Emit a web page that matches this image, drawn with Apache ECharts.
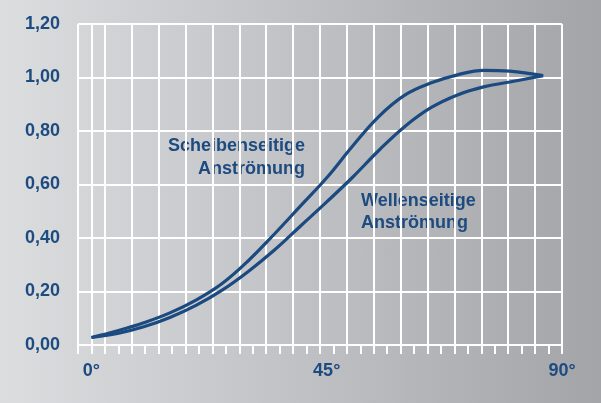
<!DOCTYPE html>
<html>
<head>
<meta charset="utf-8">
<script src="https://cdn.jsdelivr.net/npm/echarts@6/dist/echarts.min.js"></script>
<style>
html,body{margin:0;padding:0;}
#c{width:601px;height:403px;background:linear-gradient(to right,#dcdddf 0%,#c3c4c7 45%,#a3a4a8 100%);}
</style>
</head>
<body>
<div id="c"></div>
<script>
// Angle in degrees
const angles = [0, 5, 10, 15, 20, 25, 30, 35, 40, 45, 50, 55, 60, 65, 70, 75, 80, 86.4];
// Scheibenseitige Anströmung (upper curve)
const scheibenseitig = [0.028, 0.053, 0.083, 0.12, 0.168, 0.23, 0.315, 0.415, 0.52, 0.625, 0.745, 0.855, 0.935, 0.98, 1.01, 1.027, 1.024, 1.007];
// Wellenseitige Anströmung (lower curve)
const wellenseitig = [0.028, 0.043, 0.068, 0.103, 0.148, 0.205, 0.275, 0.355, 0.445, 0.535, 0.628, 0.728, 0.818, 0.888, 0.935, 0.965, 0.983, 1.007];
const xLabelValues = [0, 45, 90];
const yTicks = [0, 0.2, 0.4, 0.6, 0.8, 1.0, 1.2];
const labelScheibe = 'Scheibenseitige\nAnströmung';
const labelWelle = 'Wellenseitige\nAnströmung';

const blue = '#1a4a7f';
const textBlue = '#1d4b80';
const white = '#ffffff';
const fontFam = 'Arial';
const xMin = -90 / 35;
const xInterval = 180 / 35;

const chart = echarts.init(document.getElementById('c'), null, {renderer: 'canvas'});
chart.setOption({
  animation: false,
  backgroundColor: 'transparent',
  grid: {left: 78, right: 39, top: 24, bottom: 58, containLabel: false},
  xAxis: {
    type: 'value',
    min: xMin,
    max: 90,
    interval: xInterval,
    axisLine: {show: true, lineStyle: {color: white, width: 2}},
    axisTick: {show: true, inside: false, length: 9, lineStyle: {color: white, width: 2}},
    minorTick: {show: true, splitNumber: 2, length: 9, lineStyle: {color: white, width: 2}},
    splitLine: {show: true, lineStyle: {color: white, width: 2}},
    minorSplitLine: {show: false},
    axisLabel: {
      show: true,
      customValues: xLabelValues,
      formatter: v => Math.round(v) + '°',
      color: textBlue,
      fontWeight: 700,
      fontSize: 18,
      fontFamily: fontFam,
      margin: 17
    }
  },
  yAxis: {
    type: 'value',
    min: yTicks[0],
    max: yTicks[yTicks.length - 1],
    interval: 0.2,
    axisLine: {show: true, lineStyle: {color: white, width: 2}},
    axisTick: {show: true, inside: false, length: 10, lineStyle: {color: white, width: 2}},
    splitLine: {show: true, lineStyle: {color: white, width: 2}},
    axisLabel: {
      formatter: v => v.toFixed(2).replace('.', ','),
      color: textBlue,
      fontWeight: 700,
      fontSize: 18,
      fontFamily: fontFam,
      margin: 18
    }
  },
  series: [
    {
      name: 'Scheibenseitige Anströmung',
      type: 'line',
      smooth: 0.4,
      symbol: 'none',
      data: angles.map((a, i) => [a, scheibenseitig[i]]),
      lineStyle: {color: blue, width: 3.2}
    },
    {
      name: 'Wellenseitige Anströmung',
      type: 'line',
      smooth: 0.4,
      symbol: 'none',
      data: angles.map((a, i) => [a, wellenseitig[i]]),
      lineStyle: {color: blue, width: 3.2}
    }
  ],
  graphic: [
    {
      type: 'text', x: 305, y: 135,
      style: {text: labelScheibe, align: 'right', verticalAlign: 'top', fill: textBlue,
        fontSize: 18, fontWeight: 700, fontFamily: fontFam, lineHeight: 23}
    },
    {
      type: 'text', x: 361, y: 190,
      style: {text: labelWelle, align: 'left', verticalAlign: 'top', fill: textBlue,
        fontSize: 18, fontWeight: 700, fontFamily: fontFam, lineHeight: 22}
    }
  ]
});
</script>
</body>
</html>
